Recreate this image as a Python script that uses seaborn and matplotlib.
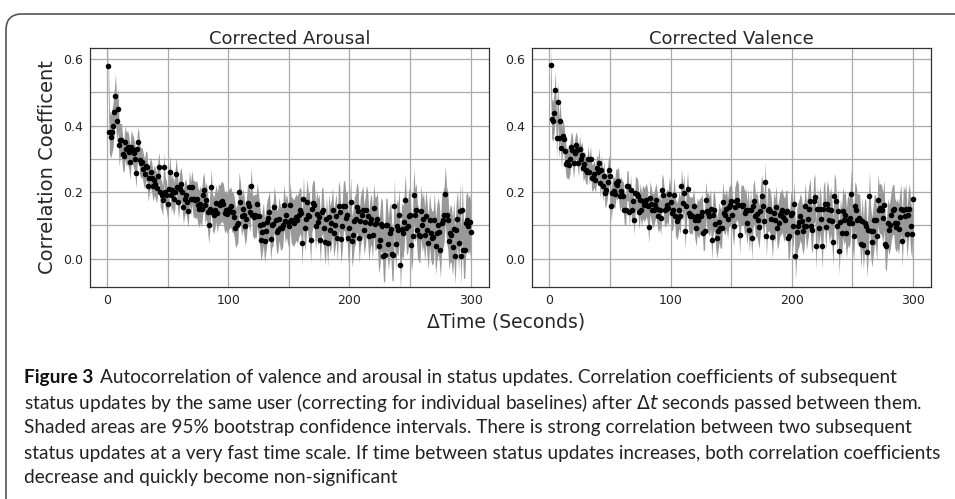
import numpy as np
import pandas as pd
import seaborn as sns
import matplotlib
matplotlib.use("Agg")
import matplotlib.pyplot as plt
from matplotlib.ticker import MultipleLocator
from matplotlib.patches import FancyBboxPatch

# lag in seconds between two status updates
seconds = list(range(1, 301))

arousal = [
    0.580, 0.382, 0.367, 0.380, 0.400, 0.442, 0.490, 0.415, 0.450, 0.342,
    0.357, 0.357, 0.315, 0.309, 0.350, 0.329, 0.335, 0.320, 0.290, 0.335,
    0.329, 0.319, 0.300, 0.257, 0.330, 0.352, 0.297, 0.287, 0.290, 0.270,
    0.255, 0.279, 0.275, 0.217, 0.243, 0.260, 0.243, 0.217, 0.237, 0.225,
    0.211, 0.250, 0.275, 0.200, 0.190, 0.175, 0.275, 0.200, 0.190, 0.165,
    0.210, 0.260, 0.190, 0.205, 0.180, 0.200, 0.255, 0.215, 0.170, 0.210,
    0.225, 0.200, 0.155, 0.180, 0.190, 0.170, 0.143, 0.215, 0.180, 0.215,
    0.180, 0.180, 0.175, 0.180, 0.160, 0.150, 0.165, 0.150, 0.190, 0.205,
    0.160, 0.175, 0.140, 0.100, 0.149, 0.215, 0.140, 0.130, 0.145, 0.167,
    0.137, 0.165, 0.160, 0.170, 0.172, 0.165, 0.137, 0.147, 0.135, 0.147,
    0.150, 0.157, 0.140, 0.140, 0.125, 0.093, 0.100, 0.108, 0.200, 0.170,
    0.127, 0.150, 0.130, 0.099, 0.120, 0.167, 0.157, 0.140, 0.217, 0.132,
    0.125, 0.130, 0.127, 0.163, 0.128, 0.100, 0.057, 0.079, 0.104, 0.054,
    0.082, 0.110, 0.122, 0.140, 0.060, 0.100, 0.103, 0.155, 0.117, 0.079,
    0.087, 0.120, 0.092, 0.092, 0.102, 0.160, 0.112, 0.130, 0.110, 0.097,
    0.162, 0.117, 0.112, 0.107, 0.117, 0.125, 0.117, 0.132, 0.145, 0.138,
    0.047, 0.179, 0.092, 0.120, 0.169, 0.132, 0.127, 0.055, 0.150, 0.167,
    0.162, 0.097, 0.135, 0.110, 0.125, 0.057, 0.140, 0.147, 0.092, 0.049,
    0.120, 0.047, 0.125, 0.087, 0.107, 0.145, 0.077, 0.100, 0.127, 0.062,
    0.159, 0.140, 0.059, 0.099, 0.159, 0.159, 0.122, 0.130, 0.062, 0.092,
    0.171, 0.052, 0.072, 0.112, 0.120, 0.155, 0.142, 0.062, 0.112, 0.130,
    0.145, 0.087, 0.110, 0.147, 0.127, 0.067, 0.107, 0.120, 0.072, 0.152,
    0.105, 0.107, 0.120, 0.037, 0.057, 0.104, 0.097, 0.009, 0.012, 0.102,
    0.102, 0.045, 0.077, 0.090, 0.015, 0.012, 0.159, 0.045, 0.099, 0.087,
    0.130, -0.020, 0.089, 0.077, 0.110, 0.175, 0.092, 0.097, 0.129, 0.130,
    0.042, 0.069, 0.192, 0.130, 0.147, 0.085, 0.072, 0.067, 0.142, 0.100,
    0.119, 0.072, 0.127, 0.087, 0.047, 0.117, 0.077, 0.062, 0.065, 0.117,
    0.037, 0.077, 0.100, 0.079, 0.027, 0.107, 0.117, 0.132, 0.194, 0.132,
    0.117, 0.052, 0.077, 0.072, 0.034, 0.090, 0.009, 0.087, 0.120, 0.047,
    0.142, 0.007, 0.147, 0.027, 0.025, 0.107, 0.117, 0.097, 0.110, 0.080,
]

valence = [
    0.583, 0.420, 0.413, 0.438, 0.506, 0.362, 0.472, 0.362, 0.415, 0.333,
    0.370, 0.360, 0.323, 0.285, 0.290, 0.282, 0.300, 0.337, 0.327, 0.287,
    0.319, 0.342, 0.327, 0.287, 0.329, 0.300, 0.312, 0.272, 0.285, 0.267,
    0.262, 0.300, 0.262, 0.300, 0.242, 0.247, 0.255, 0.237, 0.272, 0.260,
    0.287, 0.227, 0.267, 0.217, 0.249, 0.197, 0.207, 0.230, 0.267, 0.249,
    0.157, 0.197, 0.202, 0.195, 0.227, 0.222, 0.232, 0.187, 0.202, 0.190,
    0.187, 0.145, 0.147, 0.219, 0.219, 0.139, 0.207, 0.147, 0.172, 0.117,
    0.197, 0.195, 0.187, 0.139, 0.177, 0.147, 0.172, 0.162, 0.167, 0.177,
    0.159, 0.095, 0.182, 0.165, 0.147, 0.145, 0.162, 0.177, 0.149, 0.127,
    0.145, 0.122, 0.207, 0.192, 0.145, 0.149, 0.160, 0.152, 0.195, 0.169,
    0.137, 0.145, 0.192, 0.127, 0.112, 0.122, 0.147, 0.129, 0.217, 0.167,
    0.197, 0.082, 0.157, 0.209, 0.137, 0.129, 0.132, 0.129, 0.157, 0.117,
    0.092, 0.129, 0.117, 0.127, 0.129, 0.140, 0.077, 0.082, 0.177, 0.142,
    0.137, 0.127, 0.150, 0.057, 0.132, 0.147, 0.105, 0.062, 0.082, 0.109,
    0.092, 0.092, 0.169, 0.137, 0.132, 0.150, 0.120, 0.155, 0.160, 0.172,
    0.132, 0.097, 0.155, 0.172, 0.177, 0.162, 0.072, 0.162, 0.159, 0.162,
    0.137, 0.147, 0.107, 0.147, 0.087, 0.147, 0.062, 0.159, 0.172, 0.127,
    0.135, 0.117, 0.095, 0.142, 0.189, 0.159, 0.112, 0.229, 0.069, 0.147,
    0.149, 0.142, 0.120, 0.065, 0.137, 0.115, 0.155, 0.092, 0.107, 0.132,
    0.137, 0.145, 0.125, 0.117, 0.139, 0.142, 0.062, 0.067, 0.130, 0.137,
    0.099, 0.165, 0.007, 0.079, 0.099, 0.109, 0.127, 0.112, 0.082, 0.099,
    0.159, 0.097, 0.120, 0.149, 0.172, 0.099, 0.087, 0.172, 0.185, 0.037,
    0.149, 0.092, 0.149, 0.120, 0.039, 0.149, 0.165, 0.095, 0.165, 0.149,
    0.117, 0.147, 0.112, 0.049, 0.187, 0.172, 0.097, 0.142, 0.022, 0.109,
    0.077, 0.142, 0.117, 0.130, 0.077, 0.117, 0.107, 0.122, 0.195, 0.107,
    0.069, 0.157, 0.147, 0.117, 0.122, 0.117, 0.045, 0.112, 0.042, 0.107,
    0.099, 0.019, 0.085, 0.189, 0.082, 0.049, 0.082, 0.117, 0.117, 0.067,
    0.177, 0.147, 0.152, 0.145, 0.122, 0.162, 0.045, 0.039, 0.107, 0.087,
    0.102, 0.130, 0.147, 0.149, 0.107, 0.095, 0.107, 0.089, 0.125, 0.149,
    0.052, 0.145, 0.127, 0.150, 0.075, 0.130, 0.150, 0.097, 0.075, 0.179,
]

# half width of the bootstrap CI, one value per 10 s bin
arousal_ci = [0.065, 0.050, 0.045, 0.045, 0.045, 0.050, 0.050, 0.055, 0.055, 0.060,
              0.060, 0.060, 0.065, 0.065, 0.065, 0.070, 0.070, 0.070, 0.070, 0.075,
              0.075, 0.075, 0.080, 0.080, 0.080, 0.080, 0.080, 0.085, 0.085, 0.085]
valence_ci = [0.060, 0.045, 0.040, 0.040, 0.045, 0.045, 0.045, 0.050, 0.050, 0.050,
              0.055, 0.055, 0.055, 0.060, 0.060, 0.060, 0.065, 0.065, 0.065, 0.065,
              0.070, 0.070, 0.070, 0.070, 0.075, 0.075, 0.075, 0.075, 0.075, 0.075]

titles = ["Corrected Arousal", "Corrected Valence"]

caption = [
    "Autocorrelation of valence and arousal in status updates. Correlation coefficients of subsequent",
    "status updates by the same user (correcting for individual baselines) after $\\Delta t$ seconds passed between them.",
    "Shaded areas are 95% bootstrap confidence intervals. There is strong correlation between two subsequent",
    "status updates at a very fast time scale. If time between status updates increases, both correlation coefficients",
    "decrease and quickly become non-significant",
]


def draw_panel(ax, r, ci, title):
    r = np.array(r)
    half = np.repeat(ci, 10)
    df = pd.DataFrame({"dt": seconds, "r": r, "lo": r - half, "hi": r + half})
    ax.fill_between(df["dt"], df["lo"], df["hi"], color="#999999", lw=0, zorder=2)
    sns.scatterplot(data=df, x="dt", y="r", ax=ax, color="black", s=16,
                    linewidth=0, zorder=3)
    ax.set_xlim(-14, 315)
    ax.set_ylim(-0.085, 0.633)
    ax.xaxis.set_major_locator(MultipleLocator(100))
    ax.xaxis.set_minor_locator(MultipleLocator(50))
    ax.yaxis.set_major_locator(MultipleLocator(0.2))
    ax.yaxis.set_minor_locator(MultipleLocator(0.1))
    ax.set_yticks([0.0, 0.2, 0.4, 0.6])
    ax.set_yticklabels(["0.0", "0.2", "0.4", "0.6"])
    ax.grid(which="both", color="#aaaaaa", lw=0.9, zorder=0)
    ax.tick_params(which="major", length=3, width=0.8, color="#333333",
                   labelsize=9, labelcolor="#222222", pad=2)
    ax.tick_params(which="minor", length=0)
    for s in ax.spines.values():
        s.set_color("#333333")
        s.set_linewidth(0.9)
    ax.set_title(title, fontsize=13, pad=3)
    ax.set_xlabel("")
    ax.set_ylabel("")


sns.set_style("whitegrid")
plt.rcParams["font.family"] = ["DejaVu Sans"]
fig = plt.figure(figsize=(9.55, 4.99), dpi=100)
ax1 = fig.add_axes([0.0942, 0.4248, 0.4178, 0.479])
ax2 = fig.add_axes([0.5574, 0.4248, 0.4178, 0.479])
draw_panel(ax1, arousal, arousal_ci, titles[0])
draw_panel(ax2, valence, valence_ci, titles[1])

ax1.set_ylabel("Correlation Coefficent", fontsize=14, labelpad=4)
fig.text(0.53, 1 - 322 / 499, "\u0394Time (Seconds)", ha="center", va="center",
         fontsize=13.5)

# caption below the plots
cap_font = ["Lato", "Liberation Sans", "DejaVu Sans"]
renderer = fig.canvas.get_renderer()
probe = fig.text(0, 0, caption[3], fontsize=10, family=cap_font)
w = probe.get_window_extent(renderer).width
probe.remove()
cap_size = 10 * 921 / w

x0 = 24 / 955
line_y = [377, 403, 428, 453, 478]
head = fig.text(x0, 1 - line_y[0] / 499, "Figure 3", fontsize=cap_size,
                family=cap_font, weight="bold", va="center", color="#111111")
hw = head.get_window_extent(renderer).width
fig.text(x0 + (hw + 7) / 955, 1 - line_y[0] / 499, caption[0], fontsize=cap_size,
         family=cap_font, va="center", color="#222222")
for line, y in zip(caption[1:], line_y[1:]):
    fig.text(x0, 1 - y / 499, line, fontsize=cap_size, family=cap_font,
             va="center", color="#222222")

# rounded frame around the figure
frame = FancyBboxPatch((0.06, -0.3), 9.8, 4.85 + 0.3,
                       boxstyle="round,pad=0,rounding_size=0.16",
                       transform=fig.dpi_scale_trans, fill=False,
                       edgecolor="#555555", lw=1.2)
fig.add_artist(frame)

fig.savefig("out.png", dpi=100)
